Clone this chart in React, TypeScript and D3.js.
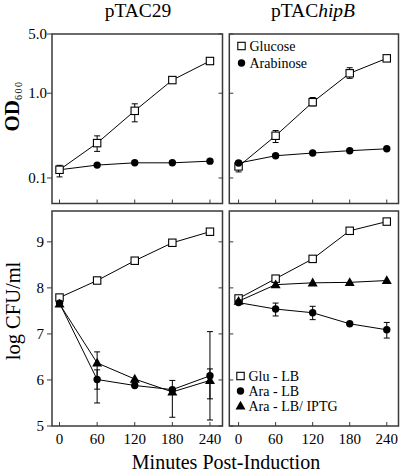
import React from 'react';
import * as d3 from 'd3';

// ---------- data ----------
const minutes = [0, 60, 120, 180, 240];
const xTickLabels = ['0', '60', '120', '180', '240'];
const odTicks = [0.1, 1.0, 5.0];
const odTickLabels = ['0.1', '1.0', '5.0'];
const cfuTicks = [5, 6, 7, 8, 9];
const cfuTickLabels = ['5', '6', '7', '8', '9'];

const legendTop = ['Glucose', 'Arabinose'];
const legendBottom = ['Glu - LB', 'Ara - LB', 'Ara - LB/ IPTG'];

// pTAC29, OD600
const od29Glucose = [0.125, 0.258, 0.62, 1.43, 2.4];
const od29GlucoseLow = [0.103, 0.206, 0.46, null, null];
const od29GlucoseHigh = [0.141, 0.314, 0.75, null, null];
const od29Arabinose = [0.125, 0.142, 0.151, 0.151, 0.158];

// pTAChipB, OD600
const odChipGlucose = [0.137, 0.315, 0.784, 1.72, 2.58];
const odChipGlucoseLow = [0.118, 0.262, 0.71, 1.5, null];
const odChipGlucoseHigh = [0.158, 0.363, 0.89, 2.0, null];
const odChipArabinose = [0.15, 0.183, 0.197, 0.21, 0.221];

// pTAC29, log CFU/ml
const cfu29Glu = [7.79, 8.16, 8.59, 8.98, 9.22];
const cfu29Ara = [7.67, 6.01, 5.88, 5.79, 6.09];
const cfu29AraLow = [null, 5.5, null, null, 5.13];
const cfu29AraHigh = [null, 6.22, null, null, 7.05];
const cfu29AraIptg = [7.65, 6.37, 6.02, 5.74, 5.99];
const cfu29AraIptgLow = [null, 5.8, null, 5.19, 5.59];
const cfu29AraIptgHigh = [null, 6.61, null, 5.99, 6.24];

// pTAChipB, log CFU/ml
const cfuChipGlu = [7.77, 8.2, 8.63, 9.24, 9.44];
const cfuChipAra = [7.68, 7.54, 7.46, 7.22, 7.09];
const cfuChipAraLow = [null, 7.39, 7.31, null, 6.91];
const cfuChipAraHigh = [null, 7.67, 7.6, null, 7.25];
const cfuChipAraIptg = [7.71, 8.07, 8.11, 8.12, 8.16];

// ---------- layout ----------
const FONT = '"Liberation Serif", "Times New Roman", Times, serif';
const LEFT = { x0: 52, x1: 222.5, domain: [-12, 260] };
const RIGHT = { x0: 229.3, x1: 398.5, domain: [-15, 259] };
const TOP = { y0: 34, y1: 203.5 };
const BOT = { y0: 211, y1: 426 };
const BORDER = '#3a3a3a';

type Shape = 'square' | 'circle' | 'triangle';
type Series = {
  values: number[];
  low?: (number | null)[];
  high?: (number | null)[];
  shape: Shape;
};

function Marker({ shape, x, y }: { shape: Shape; x: number; y: number }) {
  if (shape === 'square')
    return <rect x={x - 3.7} y={y - 3.7} width={7.4} height={7.4} fill="#fff" stroke="#000" strokeWidth={1.1} />;
  if (shape === 'circle') return <circle cx={x} cy={y} r={3.7} fill="#000" />;
  return <path d={`M${x},${y - 5.2}L${x - 5},${y + 3.6}L${x + 5},${y + 3.6}Z`} fill="#000" />;
}

function Panel({
  col,
  row,
  yScale,
  ticks,
  tickLabels,
  showLabels,
  series,
  labelX,
}: {
  col: typeof LEFT;
  row: typeof TOP;
  yScale: any;
  ticks: number[];
  tickLabels: string[];
  showLabels: boolean;
  series: Series[];
  labelX: number;
}) {
  const x = d3.scaleLinear().domain(col.domain).range([col.x0, col.x1]);
  const line = d3
    .line<number>()
    .x((_, i) => x(minutes[i]))
    .y((v) => yScale(v));
  return (
    <g>
      {minutes.map((m) => (
        <line key={'xt' + m} x1={x(m)} x2={x(m)} y1={row.y1} y2={row.y1 - 4} stroke={BORDER} strokeWidth={1} />
      ))}
      {ticks.map((t, i) => {
        const yy = yScale(t);
        return (
          <g key={'yt' + i}>
            {showLabels ? (
              <>
                <line x1={col.x0 - 5} x2={col.x0} y1={yy} y2={yy} stroke={BORDER} strokeWidth={1} />
                <line x1={col.x1 - 4} x2={col.x1} y1={yy} y2={yy} stroke={BORDER} strokeWidth={1} />
                <text x={labelX} y={yy} dy="0.35em" textAnchor="end" fontSize={15} fontFamily={FONT}>
                  {tickLabels[i]}
                </text>
              </>
            ) : (
              <line x1={col.x0} x2={col.x0 + 4} y1={yy} y2={yy} stroke={BORDER} strokeWidth={1} />
            )}
          </g>
        );
      })}
      {series.map((s, si) => (
        <g key={'s' + si}>
          <path d={line(s.values) || ''} fill="none" stroke="#000" strokeWidth={1} />
          {s.values.map((v, i) => {
            const lo = s.low ? s.low[i] : null;
            const hi = s.high ? s.high[i] : null;
            const cx = x(minutes[i]);
            return (
              <g key={'e' + i}>
                {lo != null && hi != null && (
                  <>
                    <line x1={cx} x2={cx} y1={yScale(lo)} y2={yScale(hi)} stroke="#000" strokeWidth={1} />
                    <line x1={cx - 3} x2={cx + 3} y1={yScale(lo)} y2={yScale(lo)} stroke="#000" strokeWidth={1} />
                    <line x1={cx - 3} x2={cx + 3} y1={yScale(hi)} y2={yScale(hi)} stroke="#000" strokeWidth={1} />
                  </>
                )}
              </g>
            );
          })}
          {s.values.map((v, i) => (
            <Marker key={'m' + i} shape={s.shape} x={x(minutes[i])} y={yScale(v)} />
          ))}
        </g>
      ))}
      <rect
        x={col.x0}
        y={row.y0}
        width={col.x1 - col.x0}
        height={row.y1 - row.y0}
        fill="none"
        stroke={BORDER}
        strokeWidth={1.5}
      />
    </g>
  );
}

function Legend({ x, y, items, shapes, gap }: { x: number; y: number; items: string[]; shapes: Shape[]; gap: number }) {
  return (
    <g>
      {items.map((t, i) => (
        <g key={t}>
          <Marker shape={shapes[i]} x={x} y={y + i * gap} />
          <text x={x + 8} y={y + i * gap} dy="0.35em" fontSize={14} fontFamily={FONT}>
            {t}
          </text>
        </g>
      ))}
    </g>
  );
}

export default function App() {
  const yOD = d3.scaleLog().domain([0.05, 5]).range([TOP.y1, TOP.y0]);
  const yCFU = d3.scaleLinear().domain([5, 9.67]).range([BOT.y1, BOT.y0]);
  const xL = d3.scaleLinear().domain(LEFT.domain).range([LEFT.x0, LEFT.x1]);
  const xR = d3.scaleLinear().domain(RIGHT.domain).range([RIGHT.x0, RIGHT.x1]);

  return (
    <svg
      width={400}
      height={475}
      style={{ position: 'absolute', left: 0, top: 0, background: '#fff' }}
      fontFamily={FONT}
    >
      <rect width={400} height={475} fill="#fff" />
      <text x={138} y={17} textAnchor="middle" fontSize={19.5}>
        pTAC29
      </text>
      <text x={313} y={17} textAnchor="middle" fontSize={19.5}>
        pTAC<tspan fontStyle="italic">hipB</tspan>
      </text>

      <Panel
        col={LEFT}
        row={TOP}
        yScale={yOD}
        ticks={odTicks}
        tickLabels={odTickLabels}
        showLabels
        labelX={47}
        series={[
          { values: od29Arabinose, shape: 'circle' },
          { values: od29Glucose, low: od29GlucoseLow, high: od29GlucoseHigh, shape: 'square' },
        ]}
      />
      <Panel
        col={RIGHT}
        row={TOP}
        yScale={yOD}
        ticks={odTicks}
        tickLabels={odTickLabels}
        showLabels={false}
        labelX={0}
        series={[
          { values: odChipGlucose, low: odChipGlucoseLow, high: odChipGlucoseHigh, shape: 'square' },
          { values: odChipArabinose, shape: 'circle' },
        ]}
      />
      <Panel
        col={LEFT}
        row={BOT}
        yScale={yCFU}
        ticks={cfuTicks}
        tickLabels={cfuTickLabels}
        showLabels
        labelX={44}
        series={[
          { values: cfu29Glu, shape: 'square' },
          { values: cfu29Ara, low: cfu29AraLow, high: cfu29AraHigh, shape: 'circle' },
          { values: cfu29AraIptg, low: cfu29AraIptgLow, high: cfu29AraIptgHigh, shape: 'triangle' },
        ]}
      />
      <Panel
        col={RIGHT}
        row={BOT}
        yScale={yCFU}
        ticks={cfuTicks}
        tickLabels={cfuTickLabels}
        showLabels={false}
        labelX={0}
        series={[
          { values: cfuChipGlu, shape: 'square' },
          { values: cfuChipAraIptg, shape: 'triangle' },
          { values: cfuChipAra, low: cfuChipAraLow, high: cfuChipAraHigh, shape: 'circle' },
        ]}
      />

      <Legend x={241.5} y={46} items={legendTop} shapes={['square', 'circle']} gap={17} />
      <Legend x={240.5} y={376} items={legendBottom} shapes={['square', 'circle', 'triangle']} gap={15} />

      {minutes.map((m, i) => (
        <text key={'lx' + m} x={xL(m)} y={444} textAnchor="middle" fontSize={15}>
          {xTickLabels[i]}
        </text>
      ))}
      {minutes.map((m, i) => (
        <text key={'rx' + m} x={xR(m)} y={444} textAnchor="middle" fontSize={15}>
          {xTickLabels[i]}
        </text>
      ))}

      <text x={226} y={469} textAnchor="middle" fontSize={20}>
        Minutes Post-Induction
      </text>
      <text transform="translate(19,106) rotate(-90)" textAnchor="middle" fontSize={21} fontWeight="bold">
        OD
        <tspan fontSize={10} fontWeight="normal" letterSpacing={1.5} dy={3}>
          600
        </tspan>
      </text>
      <text transform="translate(19.5,311) rotate(-90)" textAnchor="middle" fontSize={20.5}>
        log CFU/ml
      </text>
    </svg>
  );
}
